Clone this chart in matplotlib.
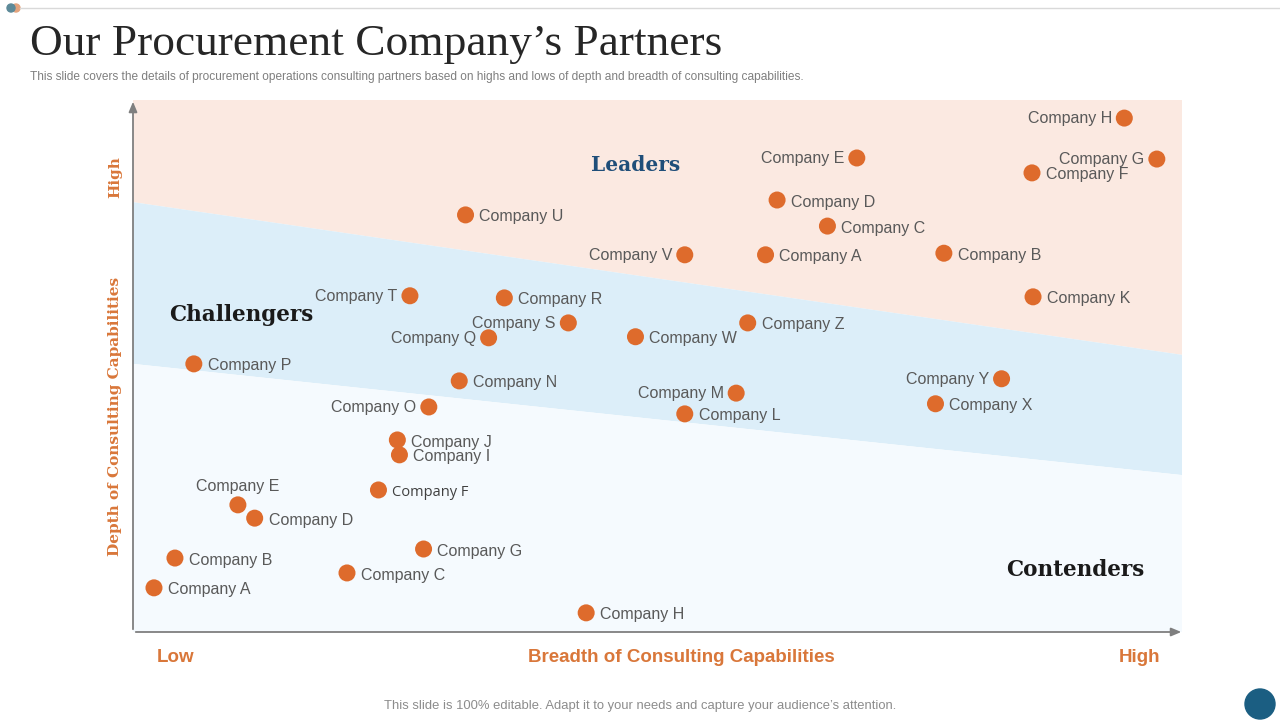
import matplotlib
matplotlib.use("Agg")
import matplotlib.pyplot as plt
from matplotlib.patches import Polygon, Circle

# ---------------- data ----------------
companies = ["Company H", "Company E", "Company G", "Company F", "Company D", "Company U",
             "Company C", "Company V", "Company A", "Company B", "Company K",
             "Company T", "Company R", "Company S", "Company Z", "Company Q", "Company W",
             "Company P", "Company N", "Company Y", "Company O", "Company M", "Company X",
             "Company L",
             "Company J", "Company I", "Company E", "Company F", "Company D", "Company B",
             "Company G", "Company C", "Company A", "Company H"]
breadth = [94.5, 69.0, 97.6, 85.7, 61.4, 31.7,
           66.2, 52.6, 60.3, 77.3, 85.8,
           26.4, 35.4, 41.5, 58.6, 33.9, 47.9,
           5.8, 31.1, 82.8, 28.2, 57.5, 76.5,
           52.6,
           25.2, 25.4, 10.0, 23.4, 11.6, 4.0,
           27.7, 20.4, 2.0, 43.2]
depth = [96.6, 89.1, 88.9, 86.3, 81.2, 78.4,
         76.3, 70.9, 70.9, 71.2, 63.0,
         63.2, 62.8, 58.1, 58.1, 55.3, 55.5,
         50.4, 47.2, 47.6, 42.3, 44.9, 42.9,
         41.0,
         36.1, 33.3, 23.9, 26.7, 21.4, 13.9,
         15.6, 11.1, 8.3, 3.6]
# region boundaries (depth value at left and right edge)
leaders_edge = [80.8, 52.1]
contenders_edge = [50.4, 29.5]

# label placement (layout)
label_side = ["l", "l", "l", "r", "r", "r",
              "r", "l", "r", "r", "r",
              "l", "r", "l", "r", "l", "r",
              "r", "r", "l", "l", "l", "r",
              "r",
              "r", "r", "t", "r", "r", "r",
              "r", "r", "r", "r"]

ORANGE = "#DE6B2C"
AXIS_ORANGE = "#D9773A"
GRAY_TXT = "#595959"

fig = plt.figure(figsize=(12.8, 7.2), dpi=100)
fig.patch.set_facecolor("white")

ax = fig.add_axes([133/1280, 1-632/720, 1049/1280, 532/720])
ax.set_xlim(0, 100)
ax.set_ylim(0, 100)
ax.axis("off")

# regions
ax.add_patch(Polygon([(0, 100), (100, 100), (100, leaders_edge[1]), (0, leaders_edge[0])],
                     closed=True, facecolor="#FBE9E1", edgecolor="none", zorder=0))
ax.add_patch(Polygon([(0, leaders_edge[0]), (100, leaders_edge[1]),
                      (100, contenders_edge[1]), (0, contenders_edge[0])],
                     closed=True, facecolor="#DCEEF9", edgecolor="none", zorder=0))
ax.add_patch(Polygon([(0, contenders_edge[0]), (100, contenders_edge[1]), (100, 0), (0, 0)],
                     closed=True, facecolor="#F5FAFE", edgecolor="none", zorder=0))

# axes arrows
arrow_kw = dict(arrowstyle="-|>,head_length=0.6,head_width=0.25", color="#7F7F7F", lw=1.3)
ax.annotate("", xy=(100.2, 0), xytext=(0, 0), arrowprops=arrow_kw, annotation_clip=False)
ax.annotate("", xy=(0, 100.2), xytext=(0, 0), arrowprops=arrow_kw, annotation_clip=False)

# points
ax.scatter(breadth, depth, s=150, color=ORANGE, edgecolor="none", zorder=3, clip_on=False)

for name, x, y, side in zip(companies, breadth, depth, label_side):
    kw = dict(fontsize=11.5, color=GRAY_TXT, family="Liberation Sans",
              textcoords="offset points", va="center", zorder=4)
    if name == "Company F" and y < 50:
        kw.update(fontsize=10.5, family="Open Sans", color="#404040")
    if side == "r":
        ax.annotate(name, (x, y), xytext=(10, -1.5), ha="left", **kw)
    elif side == "l":
        ax.annotate(name, (x, y), xytext=(-9, -0.5), ha="right", **kw)
    else:
        ax.annotate(name, (x, y), xytext=(0, 13.5), ha="center", **kw)

# quadrant titles
ax.text(47.9, 87.8, "Leaders", fontsize=14.5, fontweight="bold", color="#1F4E79",
        family="DejaVu Serif", ha="center", va="center")
ax.text(10.3, 59.5, "Challengers", fontsize=15.5, fontweight="bold", color="#1A1A1A",
        family="DejaVu Serif", ha="center", va="center")
ax.text(89.8, 11.7, "Contenders", fontsize=15.5, fontweight="bold", color="#1A1A1A",
        family="DejaVu Serif", ha="center", va="center")

# axis labels
fig.text(115/1280, 1-177/720, "High", rotation=90, fontsize=11, fontweight="bold",
         color=AXIS_ORANGE, family="DejaVu Serif", ha="center", va="center")
fig.text(115/1280, 1-416/720, "Depth of Consulting Capabilities", rotation=90, fontsize=11,
         fontweight="bold", color=AXIS_ORANGE, family="DejaVu Serif", ha="center", va="center")
fig.text(176/1280, 1-657/720, "Low", fontsize=13.5, fontweight="bold", color=AXIS_ORANGE,
         family="Liberation Sans", ha="center", va="center")
fig.text(681/1280, 1-657/720, "Breadth of Consulting Capabilities", fontsize=13.5,
         fontweight="bold", color=AXIS_ORANGE, family="Liberation Sans", ha="center", va="center")
fig.text(1139/1280, 1-657/720, "High", fontsize=13.5, fontweight="bold", color=AXIS_ORANGE,
         family="Liberation Sans", ha="center", va="center")

# title and subtitle
fig.text(30/1280, 1-44/720, "Our Procurement Company\u2019s Partners", fontsize=32.7,
         color="#262626", family="Liberation Serif", ha="left", va="center")
fig.text(30/1280, 1-77/720,
         "This slide covers the details of procurement operations consulting partners based on highs and lows of depth and breadth of consulting capabilities.",
         fontsize=8.6, color="#7F7F7F", family="Liberation Sans", ha="left", va="center")
fig.text(640/1280, 1-706/720,
         "This slide is 100% editable. Adapt it to your needs and capture your audience\u2019s attention.",
         fontsize=9.4, color="#8C8C8C", family="Liberation Sans", ha="center", va="center")

# decorations
deco = fig.add_axes([0, 0, 1, 1], zorder=-1)
deco.set_xlim(0, 1280)
deco.set_ylim(720, 0)
deco.axis("off")
deco.plot([20, 1280], [8, 8], color="#D9D9D9", lw=1)
deco.add_patch(Circle((16, 8), 4, color="#E3A47E"))
deco.add_patch(Circle((11, 8), 4, color="#5D8A99"))
deco.add_patch(Circle((1260, 704), 15, color="#1B5E82"))

fig.savefig("out.png", dpi=100, facecolor="white")
